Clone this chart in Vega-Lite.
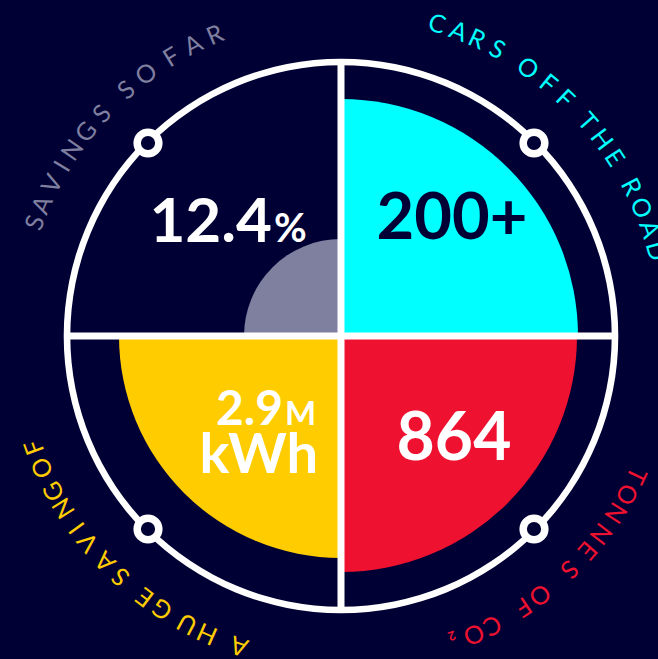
{
  "$schema": "https://vega.github.io/schema/vega-lite/v6.json",
  "width": 634,
  "height": 646,
  "autosize": {"type": "none"},
  "padding": {"left": 24, "top": 13, "right": 0, "bottom": 0},
  "background": "#000034",
  "config": {"view": {"stroke": null}, "text": {"font": "Lato"}},
  "data": {"values": [{"item": "one"}]},
  "datasets": {
    "quadrants": [
      {"quadrant": "Savings so far", "start": 270, "end": 360, "size": 97},
      {"quadrant": "Cars off the road", "start": 0, "end": 90, "size": 237},
      {"quadrant": "Tonnes of CO2", "start": 90, "end": 180, "size": 236},
      {"quadrant": "A huge saving of", "start": 180, "end": 270, "size": 222}
    ],
    "knobs": [
      {"x": -193, "y": 193},
      {"x": 193, "y": 193},
      {"x": -193, "y": -193},
      {"x": 193, "y": -193}
    ],
    "arcText": [
      {"phrase": "Savings so far", "ch": "S", "deg": 290.3},
      {"phrase": "Savings so far", "ch": "A", "deg": 293.7},
      {"phrase": "Savings so far", "ch": "V", "deg": 297.8},
      {"phrase": "Savings so far", "ch": "I", "deg": 301.3},
      {"phrase": "Savings so far", "ch": "N", "deg": 304.7},
      {"phrase": "Savings so far", "ch": "G", "deg": 308.7},
      {"phrase": "Savings so far", "ch": "S", "deg": 312.9},
      {"phrase": "Savings so far", "ch": "S", "deg": 318.9},
      {"phrase": "Savings so far", "ch": "O", "deg": 323.4},
      {"phrase": "Savings so far", "ch": "F", "deg": 328.7},
      {"phrase": "Savings so far", "ch": "A", "deg": 333.1},
      {"phrase": "Savings so far", "ch": "R", "deg": 337.3},
      {"phrase": "Cars off the road", "ch": "C", "deg": 17.1},
      {"phrase": "Cars off the road", "ch": "A", "deg": 21.1},
      {"phrase": "Cars off the road", "ch": "R", "deg": 24.6},
      {"phrase": "Cars off the road", "ch": "S", "deg": 28.6},
      {"phrase": "Cars off the road", "ch": "O", "deg": 34.9},
      {"phrase": "Cars off the road", "ch": "F", "deg": 39.4},
      {"phrase": "Cars off the road", "ch": "F", "deg": 43.4},
      {"phrase": "Cars off the road", "ch": "T", "deg": 49.0},
      {"phrase": "Cars off the road", "ch": "H", "deg": 53.0},
      {"phrase": "Cars off the road", "ch": "E", "deg": 56.9},
      {"phrase": "Cars off the road", "ch": "R", "deg": 62.8},
      {"phrase": "Cars off the road", "ch": "O", "deg": 66.9},
      {"phrase": "Cars off the road", "ch": "A", "deg": 70.9},
      {"phrase": "Cars off the road", "ch": "D", "deg": 74.9},
      {"phrase": "Tonnes of CO2", "ch": "T", "deg": 115.3},
      {"phrase": "Tonnes of CO2", "ch": "O", "deg": 119.0},
      {"phrase": "Tonnes of CO2", "ch": "N", "deg": 122.8},
      {"phrase": "Tonnes of CO2", "ch": "N", "deg": 127.3},
      {"phrase": "Tonnes of CO2", "ch": "E", "deg": 131.0},
      {"phrase": "Tonnes of CO2", "ch": "S", "deg": 135.6},
      {"phrase": "Tonnes of CO2", "ch": "O", "deg": 142.5},
      {"phrase": "Tonnes of CO2", "ch": "F", "deg": 146.1},
      {"phrase": "Tonnes of CO2", "ch": "C", "deg": 152.4},
      {"phrase": "Tonnes of CO2", "ch": "O", "deg": 156.0},
      {"phrase": "Tonnes of CO2", "ch": "₂", "deg": 159.7},
      {"phrase": "A huge saving of", "ch": "A", "deg": 198.2},
      {"phrase": "A huge saving of", "ch": "H", "deg": 204.2},
      {"phrase": "A huge saving of", "ch": "U", "deg": 208.1},
      {"phrase": "A huge saving of", "ch": "G", "deg": 213.2},
      {"phrase": "A huge saving of", "ch": "E", "deg": 216.9},
      {"phrase": "A huge saving of", "ch": "S", "deg": 222.5},
      {"phrase": "A huge saving of", "ch": "A", "deg": 226.3},
      {"phrase": "A huge saving of", "ch": "V", "deg": 230.8},
      {"phrase": "A huge saving of", "ch": "I", "deg": 234.0},
      {"phrase": "A huge saving of", "ch": "N", "deg": 238.2},
      {"phrase": "A huge saving of", "ch": "G", "deg": 241.6},
      {"phrase": "A huge saving of", "ch": "O", "deg": 246.2},
      {"phrase": "A huge saving of", "ch": "F", "deg": 250.1}
    ]
  },
  "layer": [
    {
      "data": {"name": "quadrants"},
      "mark": {"type": "arc"},
      "encoding": {
        "theta": {"field": "start", "type": "quantitative", "stack": null, "scale": {"domain": [0, 360], "range": [0, 6.283185307179586]}},
        "theta2": {"field": "end"},
        "radius": {"field": "size", "type": "quantitative", "scale": {"type": "linear", "domain": [0, 323], "range": [0, 323], "zero": true}},
        "color": {"field": "quadrant", "type": "nominal", "legend": null,
          "scale": {"domain": ["Savings so far", "Cars off the road", "Tonnes of CO2", "A huge saving of"], "range": ["#7f7f9f", "#00ffff", "#ef1230", "#ffcc00"]}}
      }
    },
    {
      "mark": {"type": "arc", "color": "#ffffff"},
      "encoding": {
        "theta": {"datum": 0, "type": "quantitative", "scale": {"domain": [0, 360], "range": [0, 6.283185307179586]}},
        "theta2": {"datum": 360},
        "radius": {"datum": 277.3, "type": "quantitative", "scale": {"type": "linear", "domain": [0, 323], "range": [0, 323], "zero": true}},
        "radius2": {"datum": 270.7}
      }
    },
    {
      "mark": {"type": "rule", "color": "#ffffff", "strokeWidth": 7},
      "encoding": {
        "x": {"datum": 0, "type": "quantitative", "axis": null, "scale": {"domain": [-317, 317], "nice": false, "zero": false}},
        "y": {"datum": -274, "type": "quantitative", "axis": null, "scale": {"domain": [-323, 323], "nice": false, "zero": false}},
        "y2": {"datum": 274}
      }
    },
    {
      "mark": {"type": "rule", "color": "#ffffff", "strokeWidth": 7},
      "encoding": {
        "x": {"datum": -274, "type": "quantitative", "axis": null, "scale": {"domain": [-317, 317], "nice": false, "zero": false}},
        "x2": {"datum": 274},
        "y": {"datum": 0, "type": "quantitative", "axis": null, "scale": {"domain": [-323, 323], "nice": false, "zero": false}}
      }
    },
    {
      "data": {"name": "knobs"},
      "mark": {"type": "point", "filled": true, "fill": "#000034", "stroke": "#ffffff", "strokeWidth": 7.5, "size": 470, "opacity": 1},
      "encoding": {
        "x": {"field": "x", "type": "quantitative", "axis": null, "scale": {"domain": [-317, 317], "nice": false, "zero": false}},
        "y": {"field": "y", "type": "quantitative", "axis": null, "scale": {"domain": [-323, 323], "nice": false, "zero": false}}
      }
    },
    {
      "mark": {"type": "text", "fontSize": 62, "fontWeight": "bold", "color": "#ffffff", "align": "right", "baseline": "alphabetic"},
      "encoding": {
        "x": {"datum": -69, "type": "quantitative", "axis": null, "scale": {"domain": [-317, 317], "nice": false, "zero": false}},
        "y": {"datum": 94, "type": "quantitative", "axis": null, "scale": {"domain": [-323, 323], "nice": false, "zero": false}},
        "text": {"value": "12.4"}
      }
    },
    {
      "mark": {"type": "text", "fontSize": 40, "fontWeight": "bold", "color": "#ffffff", "align": "left", "baseline": "alphabetic"},
      "encoding": {
        "x": {"datum": -67, "type": "quantitative", "axis": null, "scale": {"domain": [-317, 317], "nice": false, "zero": false}},
        "y": {"datum": 94, "type": "quantitative", "axis": null, "scale": {"domain": [-323, 323], "nice": false, "zero": false}},
        "text": {"value": "%"}
      }
    },
    {
      "mark": {"type": "text", "fontSize": 65, "fontWeight": "bold", "color": "#000034", "align": "center", "baseline": "alphabetic"},
      "encoding": {
        "x": {"datum": 111, "type": "quantitative", "axis": null, "scale": {"domain": [-317, 317], "nice": false, "zero": false}},
        "y": {"datum": 97, "type": "quantitative", "axis": null, "scale": {"domain": [-323, 323], "nice": false, "zero": false}},
        "text": {"value": "200+"}
      }
    },
    {
      "mark": {"type": "text", "fontSize": 66, "fontWeight": "bold", "color": "#ffffff", "align": "center", "baseline": "alphabetic"},
      "encoding": {
        "x": {"datum": 113, "type": "quantitative", "axis": null, "scale": {"domain": [-317, 317], "nice": false, "zero": false}},
        "y": {"datum": -124, "type": "quantitative", "axis": null, "scale": {"domain": [-323, 323], "nice": false, "zero": false}},
        "text": {"value": "864"}
      }
    },
    {
      "mark": {"type": "text", "fontSize": 48, "fontWeight": "bold", "color": "#ffffff", "align": "right", "baseline": "alphabetic"},
      "encoding": {
        "x": {"datum": -58, "type": "quantitative", "axis": null, "scale": {"domain": [-317, 317], "nice": false, "zero": false}},
        "y": {"datum": -89, "type": "quantitative", "axis": null, "scale": {"domain": [-323, 323], "nice": false, "zero": false}},
        "text": {"value": "2.9"}
      }
    },
    {
      "mark": {"type": "text", "fontSize": 33, "fontWeight": "bold", "color": "#ffffff", "align": "left", "baseline": "alphabetic"},
      "encoding": {
        "x": {"datum": -56, "type": "quantitative", "axis": null, "scale": {"domain": [-317, 317], "nice": false, "zero": false}},
        "y": {"datum": -89, "type": "quantitative", "axis": null, "scale": {"domain": [-323, 323], "nice": false, "zero": false}},
        "text": {"value": "M"}
      }
    },
    {
      "mark": {"type": "text", "fontSize": 56, "fontWeight": "bold", "color": "#ffffff", "align": "right", "baseline": "alphabetic"},
      "encoding": {
        "x": {"datum": -23, "type": "quantitative", "axis": null, "scale": {"domain": [-317, 317], "nice": false, "zero": false}},
        "y": {"datum": -137, "type": "quantitative", "axis": null, "scale": {"domain": [-323, 323], "nice": false, "zero": false}},
        "text": {"value": "kWh"}
      }
    },
    {
      "data": {"name": "arcText"},
      "mark": {"type": "text", "fontSize": 25, "align": "center", "baseline": "middle"},
      "encoding": {
        "theta": {"field": "deg", "type": "quantitative", "stack": null, "scale": {"domain": [0, 360], "range": [0, 6.283185307179586]}},
        "radius": {"datum": 326, "type": "quantitative", "scale": {"type": "linear", "domain": [0, 323], "range": [0, 323], "zero": true}},
        "angle": {"field": "deg", "type": "quantitative", "scale": {"domain": [0, 360], "range": [0, 360]}},
        "text": {"field": "ch", "type": "nominal"},
        "color": {"field": "phrase", "type": "nominal", "legend": null,
          "scale": {"domain": ["Savings so far", "Cars off the road", "Tonnes of CO2", "A huge saving of"], "range": ["#7f7f9f", "#00ffff", "#ef1230", "#ffcc00"]}}
      }
    }
  ]
}
